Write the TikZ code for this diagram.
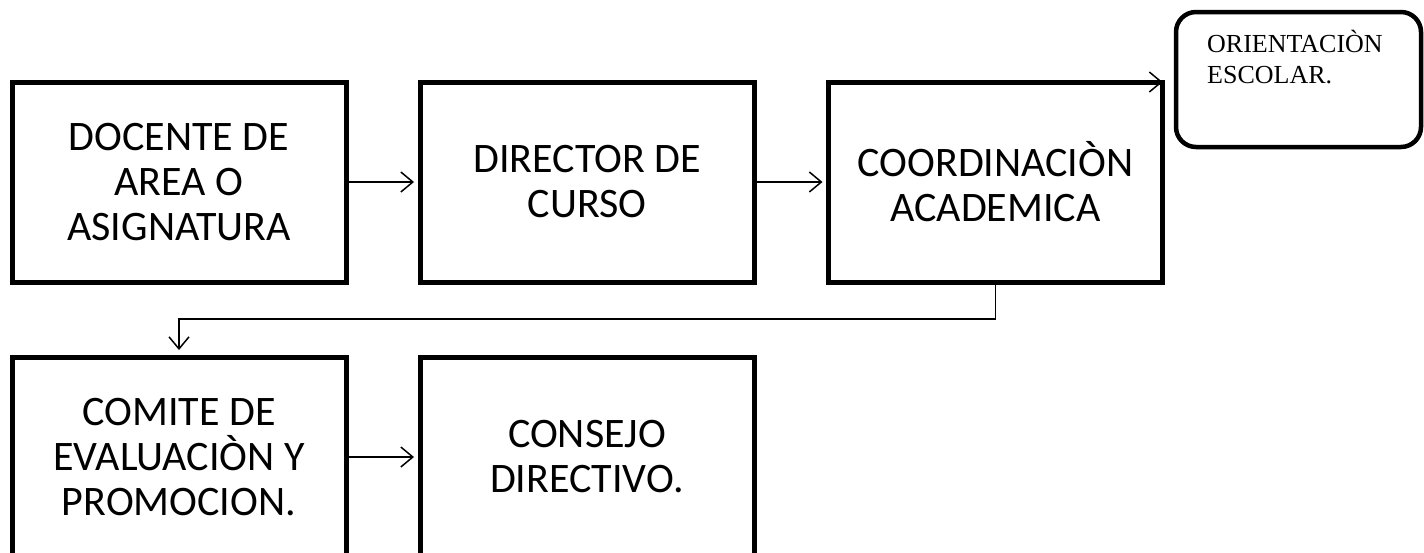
\documentclass[tikz,border=0pt]{standalone}
\usepackage{fontspec}
\setmainfont{Carlito}
\newfontfamily\timesf{Liberation Serif}
\usetikzlibrary{arrows.meta}
\begin{document}
\begin{tikzpicture}[x=1pt,y=-1pt,
  box/.style={draw, line width=5pt, minimum width=334pt, minimum height=200pt,
    inner sep=0pt, outer sep=0pt, align=center, font=\fontsize{42}{45}\selectfont},
  roundbox/.style={draw, line width=4.5pt, rounded corners=20pt, minimum width=245pt,
    minimum height=135pt, inner sep=0pt, outer sep=0pt},
  oritxt/.style={inner sep=0pt, align=left, font=\timesf\fontsize{26}{31}\selectfont},
  arr/.style={line width=1.5pt, shorten >=6pt,
    -{Straight Barb[length=12pt,width=20pt,line width=1.5pt]}}
]
\useasboundingbox (0,0) rectangle (1424,552);
\node[box] (doc) at (179,182) {DOCENTE DE\\AREA O\\ASIGNATURA};
\node[box] (dir) at (587,182) {DIRECTOR DE\\CURSO};
\node[box] (coo) at (995.5,182) {COORDINACIÒN\\ACADEMICA};
\node[box] (com) at (179,457) {COMITE DE\\EVALUACIÒN Y\\PROMOCION.};
\node[box] (con) at (587,457) {CONSEJO\\DIRECTIVO.};
\node[roundbox] (ori) at (1298.5,79.5) {};
\node[oritxt, anchor=north west] (oritext) at (1207,30) {ORIENTACIÒN\\ESCOLAR.};
\draw[arr] (doc.east) -- (dir.west);
\draw[arr] (dir.east) -- (coo.west);
\draw[arr] (com.east) -- (con.west);
\draw[arr, shorten >=7pt] (coo.south) -- ++(0,37) -| (com.north);
\draw[arr, shorten >=0pt] (coo.north) -- (coo.north east);
\end{tikzpicture}
\end{document}
